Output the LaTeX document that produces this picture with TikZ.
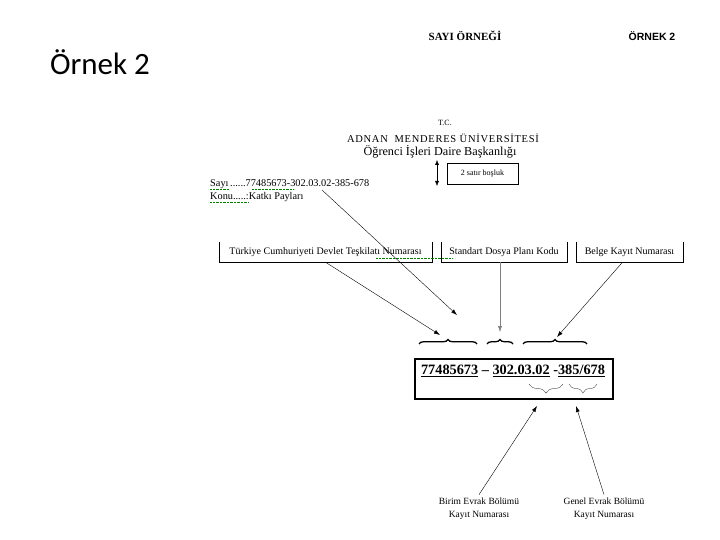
\documentclass[tikz,border=0pt]{standalone}
\usepackage{fontspec}
\setmainfont{Liberation Serif}
\newfontfamily\calibri{Carlito}
\newfontfamily\arial{Liberation Sans}
\newfontfamily\aralikli[LetterSpace=7]{Liberation Serif}
\usetikzlibrary{arrows.meta,decorations.pathreplacing}

\tikzset{
  yazi/.style={inner sep=1pt, font=\fontsize{10.3}{11}\selectfont},
  kutu/.style={minimum height=20pt, inner sep=2pt, font=\fontsize{10}{11}\selectfont},
  ok/.style={-{Latex[length=6pt,width=4pt]}, thin},
  ustparantez/.style={decorate, decoration={brace, amplitude=4.5pt}, line width=1.3pt},
  altparantez/.style={decorate, decoration={brace, amplitude=9pt, mirror}, gray!60!black, thin},
  yesil/.style={green!50!black, densely dotted, thin},
}

\begin{document}
\begin{tikzpicture}[x=1pt,y=-1pt]
\useasboundingbox[fill=white] (0,0) rectangle (720,540);

%%% basliklar
\node (ornek) at (100,62) {\calibri\fontsize{31}{34}\selectfont Örnek 2};
\node (sayiornek) at (465,36) {\fontsize{11}{12}\selectfont\bfseries SAYI ÖRNEĞİ};
\node (ornek2) at (652,36) {\arial\fontsize{10.5}{12}\selectfont\bfseries ÖRNEK 2};

%%% antet
\node (tc) at (445,123) {\fontsize{8}{9}\selectfont T.C.};
\node (adu) at (443,138) {\aralikli\fontsize{10.5}{12}\selectfont ADNAN\ \ MENDERES ÜNİVERSİTESİ};
\node (daire) at (440,152) {\fontsize{12.2}{13}\selectfont Öğrenci İşleri Daire Başkanlığı};
\coordinate (b1) at (437,160);
\coordinate (b2) at (437,186);
\draw[{Latex[length=5pt,width=4pt]}-{Latex[length=5pt,width=4pt]}] (b1) -- (b2);
\node[draw, minimum width=71pt, minimum height=21pt, font=\fontsize{8}{9}\selectfont] (bosluk) at (482.5,173.5) {2 satır boşluk};

%%% sayi ve konu
\node[yazi, anchor=west] (sayi) at (209,184) {Sayı\,......77485673-302.03.02-385-678};
\node[yazi, anchor=west] (konu) at (209,197) {Konu.....:Katkı Payları};
\draw[yesil] (210,189) -- (229,189);
\draw[yesil] (252,189) -- (294,189);
\draw[yesil] (210,202) -- (248,202);

%%% aciklama kutulari (ustu acik)
\node[kutu, minimum width=213pt] (k1) at (325.5,252) {Türkiye Cumhuriyeti Devlet Teşkilatı Numarası};
\node[kutu, minimum width=126pt] (k2) at (504,252) {Standart Dosya Planı Kodu};
\node[kutu, minimum width=107pt] (k3) at (629.5,252) {Belge Kayıt Numarası};
\foreach \k in {k1,k2,k3}
  \draw (\k.north west) |- (\k.south east) -- (\k.north east);
\draw[yesil] (376,258) -- (453,258);

%%% numara kutusu
\node[draw, line width=1.5pt, minimum width=198pt, minimum height=40pt] (numkutu) at (514,379) {};
\node (numara) at (513,371) {\fontsize{14.3}{16}\selectfont\bfseries
  \underline{77485673} -- \underline{302.03.02} -\underline{385/678}};

%%% ust parantezler
\draw[ustparantez] (419,344) -- (477,344);
\draw[ustparantez] (487,344) -- (513,344);
\draw[ustparantez] (523,344) -- (587,344);
\coordinate (p1a) at (457,315);
\coordinate (p1b) at (440,335);
\coordinate (p2) at (500,332);
\coordinate (p3) at (557,337);

%%% alt parantezler
\draw[altparantez] (529,384) -- (563,384);
\draw[altparantez] (569,384) -- (597,384);
\coordinate (q1) at (537,406);
\coordinate (q2) at (576,406);

%%% oklar
\coordinate (s1) at (322,190);
\draw[ok] (s1) -- (p1a);
\draw[ok] (k1.south) -- (p1b);
\draw[ok, gray] (k2.south -| p2) -- (p2);
\draw[ok] ([xshift=-7pt]k3.south) -- (p3);

%%% alt aciklamalar
\node[align=center, font=\fontsize{9.5}{13}\selectfont] (birim) at (479,509) {Birim Evrak Bölümü\\Kayıt Numarası};
\node[align=center, font=\fontsize{9.5}{13}\selectfont] (genel) at (604,509) {Genel Evrak Bölümü\\Kayıt Numarası};
\draw[ok] (birim.north) -- (q1);
\draw[ok] (genel.north) -- (q2);
\end{tikzpicture}
\end{document}
